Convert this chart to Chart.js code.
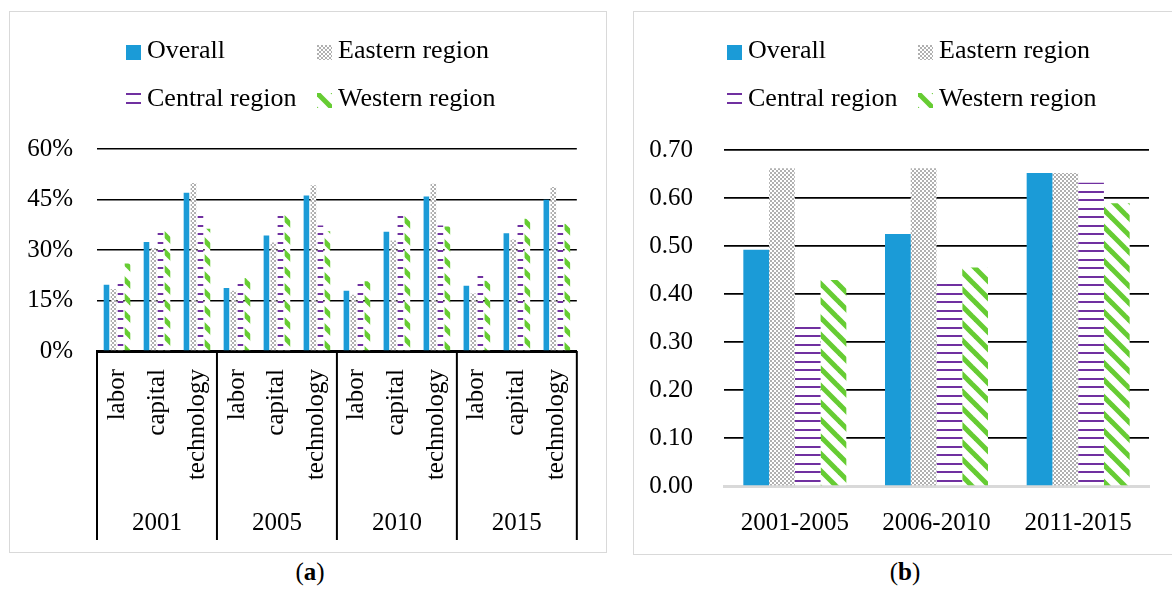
<!DOCTYPE html>
<html>
<head>
<meta charset="utf-8">
<script src="https://cdn.jsdelivr.net/npm/chart.js@4.4.1/dist/chart.umd.min.js"></script>
<style>
  html, body { margin: 0; padding: 0; background: #fff; overflow: hidden; }
  body { width: 1172px; height: 589px; position: relative; font-family: "Liberation Serif", serif; color: #000; }
  .panel { position: absolute; border: 1.5px solid #d9d9d9; box-sizing: border-box; }
  #panelA { left: 9px; top: 11px; width: 598px; height: 542px; }
  #panelB { left: 633px; top: 11px; width: 580px; height: 544px; }
  canvas.chart { position: absolute; }
  #chartA { left: 10px; top: 12px; }
  #chartB { left: 634px; top: 12px; }
  .swatch { position: absolute; }
  .legend-text { position: absolute; font-size: 26px; line-height: 1; white-space: nowrap; }
  .caption { position: absolute; top: 559px; width: 100px; text-align: center; font-size: 25px; line-height: 1; }
</style>
</head>
<body>
<div class="panel" id="panelA"></div>
<div class="panel" id="panelB"></div>
<canvas class="chart" id="chartA" width="596" height="540"></canvas>
<canvas class="chart" id="chartB" width="538" height="542"></canvas>
<div class="caption" style="left:260px">(<b>a</b>)</div>
<div class="caption" style="left:855px">(<b>b</b>)</div>
<script>
// data
const seriesNames = ['Overall', 'Eastern region', 'Central region', 'Western region'];
const years = ['2001', '2005', '2010', '2015'];
const factors = ['labor', 'capital', 'technology'];
const periods = ['2001-2005', '2006-2010', '2011-2015'];

// panel (a), percent, order: year by year, labor / capital / technology
const overallA = [19.7, 32.4, 47.0, 18.7, 34.3, 46.2, 17.9, 35.4, 45.9, 19.4, 35.0, 44.9];
const easternA = [18.4, 30.6, 49.9, 17.9, 32.2, 49.2, 16.7, 32.8, 49.7, 17.1, 33.1, 48.7];
const centralA = [21.7, 35.2, 40.3, 19.9, 40.2, 37.3, 21.4, 40.5, 37.3, 23.5, 38.3, 38.0];
const westernA = [26.0, 35.8, 36.3, 21.7, 40.5, 35.6, 20.7, 41.2, 37.0, 20.9, 39.3, 37.8];

// panel (b)
const overallB = [0.492, 0.525, 0.652];
const easternB = [0.662, 0.662, 0.652];
const centralB = [0.331, 0.433, 0.632];
const westernB = [0.429, 0.455, 0.589];

const factorLabels = years.flatMap(() => factors);

Chart.defaults.color = '#000';
Chart.defaults.font.family = '"Liberation Serif", serif';
Chart.defaults.font.size = 25;

function makePattern(kind, ctx) {
  const c = document.createElement('canvas');
  const g = c.getContext('2d');
  if (kind === 'checker') {
    c.width = 4; c.height = 4;
    g.fillStyle = '#fff'; g.fillRect(0, 0, 4, 4);
    g.fillStyle = '#b0b0b0';
    g.fillRect(0, 0, 2, 2); g.fillRect(2, 2, 2, 2);
  } else if (kind === 'hlines') {
    c.width = 4; c.height = 17;
    g.fillStyle = '#fff'; g.fillRect(0, 0, 4, 17);
    g.fillStyle = '#7030a0';
    g.fillRect(0, 0, 4, 2); g.fillRect(0, 9, 4, 2);
  } else {
    c.width = 17; c.height = 17;
    g.fillStyle = '#fff'; g.fillRect(0, 0, 17, 17);
    g.strokeStyle = '#66cc33'; g.lineWidth = 5;
    [-17, 0, 17].forEach((x0) => {
      g.beginPath(); g.moveTo(x0 - 5, -5); g.lineTo(x0 + 22, 22); g.stroke();
    });
  }
  return ctx.createPattern(c, 'repeat');
}

function fills(ctx) {
  return ['#1b9bd7', makePattern('checker', ctx), makePattern('hlines', ctx), makePattern('diag', ctx)];
}

function buildLegend(offsetX) {
  seriesNames.forEach((name, i) => {
    const col = i % 2, row = Math.floor(i / 2);
    const sx = 126 + offsetX + col * 191;
    const sw = document.createElement('canvas');
    sw.className = 'swatch';
    sw.width = 15; sw.height = 15;
    sw.style.left = sx + 'px';
    sw.style.top = (row ? 93 : 45) + 'px';
    const g = sw.getContext('2d');
    g.fillStyle = fills(g)[i];
    g.fillRect(0, 0, 15, 15);
    document.body.appendChild(sw);
    const t = document.createElement('div');
    t.className = 'legend-text';
    t.textContent = name;
    t.style.left = (sx + 21) + 'px';
    t.style.top = (row ? 85 : 37) + 'px';
    document.body.appendChild(t);
  });
}
buildLegend(0);
buildLegend(601);

const groupLines = {
  id: 'groupLines',
  afterDraw(chart) {
    const x2 = chart.scales.x2;
    const ctx = chart.ctx;
    const step = x2.getPixelForTick(1) - x2.getPixelForTick(0);
    ctx.save();
    ctx.strokeStyle = '#000';
    ctx.lineWidth = 2;
    for (let i = 0; i <= years.length; i++) {
      const px = x2.getPixelForTick(0) - step / 2 + i * step;
      ctx.beginPath();
      ctx.moveTo(px, chart.chartArea.bottom);
      ctx.lineTo(px, x2.bottom);
      ctx.stroke();
    }
    ctx.restore();
  }
};

const ctxA = document.getElementById('chartA').getContext('2d');
const fillA = fills(ctxA);
new Chart(ctxA, {
  type: 'bar',
  data: {
    labels: factorLabels,
    datasets: [overallA, easternA, centralA, westernA].map((d, i) => ({
      label: seriesNames[i],
      data: d,
      backgroundColor: fillA[i],
      borderWidth: 0,
      categoryPercentage: 0.7,
      barPercentage: 0.8
    }))
  },
  options: {
    responsive: false,
    animation: false,
    layout: { padding: { top: 137, right: 28, bottom: 12, left: 0 } },
    plugins: { legend: { display: false }, tooltip: { enabled: false } },
    scales: {
      x: {
        grid: { display: false, drawTicks: false },
        border: { color: '#000', width: 3 },
        ticks: { minRotation: 90, maxRotation: 90, autoSkip: false, padding: 18 },
        afterFit(s) { s.height = 150; }
      },
      x2: {
        type: 'category',
        labels: years,
        position: 'bottom',
        weight: 1,
        offset: true,
        grid: { display: false, drawTicks: false },
        border: { display: false },
        ticks: { padding: 7 },
        afterFit(s) { s.height = 39; }
      },
      y: {
        min: 0,
        max: 60,
        ticks: { stepSize: 15, padding: 24, callback: (v) => v + '%' },
        grid: { color: '#000', lineWidth: 1.5, drawTicks: false },
        border: { display: false },
        afterFit(s) { s.width = 87; }
      }
    }
  },
  plugins: [groupLines]
});

const ctxB = document.getElementById('chartB').getContext('2d');
const fillB = fills(ctxB);
new Chart(ctxB, {
  type: 'bar',
  data: {
    labels: periods,
    datasets: [overallB, easternB, centralB, westernB].map((d, i) => ({
      label: seriesNames[i],
      data: d,
      backgroundColor: fillB[i],
      borderWidth: 0,
      categoryPercentage: 0.727,
      barPercentage: 1
    }))
  },
  options: {
    responsive: false,
    animation: false,
    layout: { padding: { top: 138, right: 23, bottom: 8, left: 0 } },
    plugins: { legend: { display: false }, tooltip: { enabled: false } },
    scales: {
      x: {
        grid: { display: false, drawTicks: false },
        border: { color: '#d9d9d9', width: 3 },
        ticks: { padding: 22 },
        afterFit(s) { s.height = 60; }
      },
      y: {
        min: 0,
        max: 0.7,
        ticks: { stepSize: 0.1, padding: 31, callback: (v) => v.toFixed(2) },
        grid: {
          color: (c) => (c.tick && c.tick.value === 0 ? 'rgba(0,0,0,0)' : '#000'),
          lineWidth: 1.7,
          drawTicks: false
        },
        border: { display: false },
        afterFit(s) { s.width = 90; }
      }
    }
  }
});
</script>
</body>
</html>
